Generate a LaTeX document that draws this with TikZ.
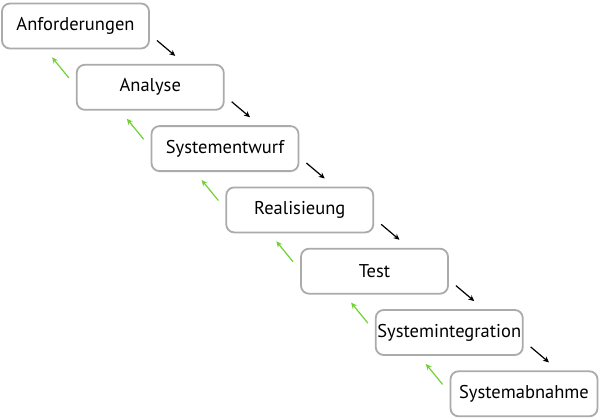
\documentclass[tikz,border=0pt]{standalone}
\usepackage{fontspec}
\setmainfont{PT Sans}
\usetikzlibrary{arrows.meta}
\definecolor{backgreen}{RGB}{112,210,50}
\begin{document}
\begin{tikzpicture}[x=1pt,y=-1pt,
  stage/.style={draw=black!33, line width=1.8pt, rounded corners=8pt, fill=white,
    minimum width=147pt, minimum height=45pt, inner sep=0pt,
    font=\fontsize{18.5}{22}\selectfont, text=black},
  fwd/.style={draw=black, line width=1.2pt, -{Stealth[length=6pt,width=5.5pt]}},
  back/.style={draw=backgreen, line width=1.2pt, -{Stealth[length=6pt,width=5.5pt]}}]
\useasboundingbox (0,0) rectangle (600,420);
\node[stage] (s1) at (75.5,26) {Anforderungen};
\node[stage] (s2) at (150.25,87.3) {Analyse};
\node[stage] (s3) at (225,148.6) {Systementwurf};
\node[stage] (s4) at (299.75,209.9) {Realisieung};
\node[stage] (s5) at (374.5,271.2) {Test};
\node[stage] (s6) at (449.25,332.5) {Systemintegration};
\node[stage] (s7) at (524,393.8) {Systemabnahme};
\foreach \a/\b in {s1/s2,s2/s3,s3/s4,s4/s5,s5/s6,s6/s7}{
  \draw[fwd] ([shift={(7,-9)}]\a.south east) -- ([shift={(25,-8)}]\b.north);
  \draw[back] ([shift={(-7,14)}]\b.north west) -- ([shift={(51,8)}]\a.south west);
}
\end{tikzpicture}
\end{document}
